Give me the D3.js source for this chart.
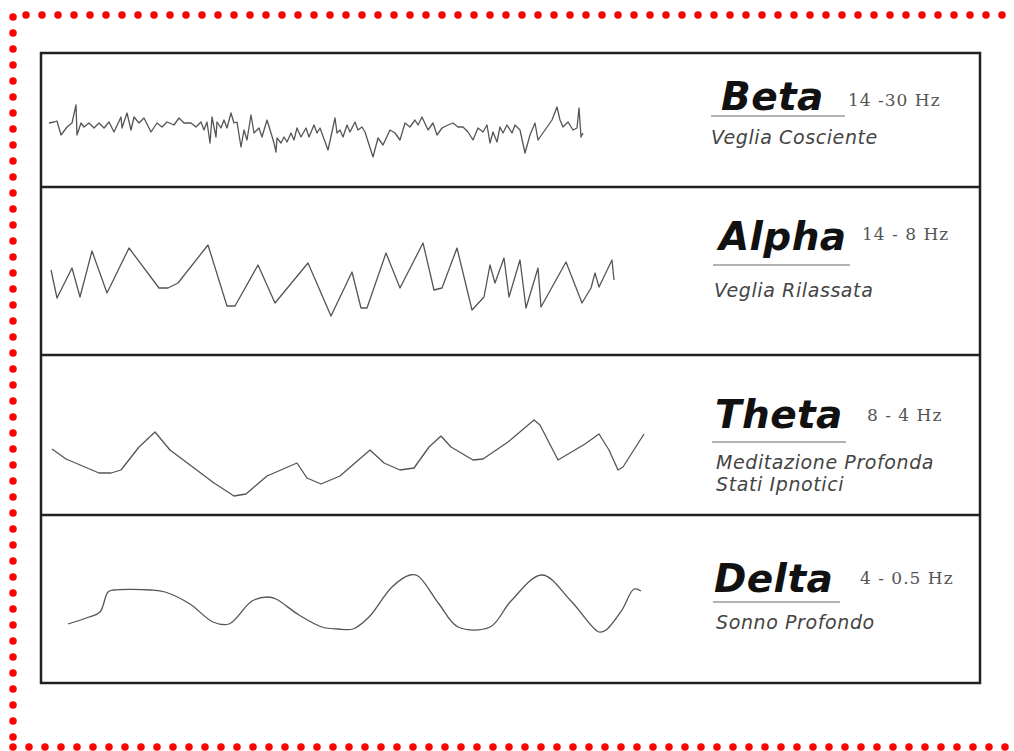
<!DOCTYPE html>
<html>
<head>
<meta charset="utf-8">
<script src="https://cdn.jsdelivr.net/npm/d3@7/dist/d3.min.js"></script>
<style>
  body { margin: 0; background: #fff; }
  svg { display: block; }
</style>
</head>
<body>
<div id="chart"></div>
<script>
// band names, frequency ranges and states
var bandNames = ['Beta', 'Alpha', 'Theta', 'Delta'];
var bandFreqs = ['14 -30 Hz', '14 - 8 Hz', '8 - 4 Hz', '4 - 0.5 Hz'];
var bandStates = [['Veglia Cosciente'], ['Veglia Rilassata'], ['Meditazione Profonda', 'Stati Ipnotici'], ['Sonno Profondo']];

// traces: [time, amplitude]
var betaWave = [[8,-3],[13,-2],[16,-1],[20,-15],[26,-7],[31,-3],[35,15],[36,-15],[40,-3],[43,-7],[48,-3],[53,-8],[58,-3],[63,-8],[68,-2],[73,-12],[80,3],[81,-8],[86,7],[90,-10],[93,3],[98,-3],[103,2],[110,-12],[116,-3],[121,-7],[126,-2],[133,-5],[138,2],[143,-3],[150,-3],[155,-7],[160,-2],[163,-10],[166,-2],[169,-23],[171,3],[175,-17],[176,-2],[180,-8],[183,0],[186,-8],[190,7],[193,-3],[196,-2],[200,-27],[203,-10],[206,-20],[210,5],[213,-13],[218,-8],[221,-17],[226,0],[230,-13],[233,-23],[235,-32],[236,-18],[240,-23],[243,-17],[246,-22],[250,-13],[253,-20],[256,-8],[260,-17],[265,-8],[268,-17],[273,-5],[276,-13],[279,-8],[287,-30],[294,2],[296,-13],[299,-10],[302,-17],[306,-5],[309,-12],[314,-2],[317,-10],[321,-7],[324,-12],[332,-37],[337,-18],[342,-25],[349,-10],[354,-13],[359,-20],[364,-3],[369,-7],[374,0],[377,-5],[381,3],[387,-10],[392,-3],[396,-15],[401,-8],[407,-5],[412,-3],[417,-7],[422,-7],[427,-12],[432,-20],[437,-8],[442,-12],[446,-5],[449,-23],[452,-12],[456,-22],[459,-7],[462,-13],[466,-5],[471,-13],[474,-5],[479,-10],[484,-33],[489,-15],[494,-3],[497,-20],[504,-10],[511,0],[516,13],[519,0],[522,-7],[527,-2],[532,-10],[536,-8],[538,12],[540,-17],[542,-13]];
var alphaWave = [[10,1],[16,-27],[31,3],[39,-26],[51,20],[66,-22],[88,23],[118,-17],[127,-17],[137,-12],[167,26],[186,-35],[194,-35],[217,6],[234,-32],[267,8],[290,-45],[311,-1],[320,-37],[326,-37],[345,18],[359,-17],[382,28],[393,-19],[401,-17],[416,23],[431,-39],[443,-26],[449,6],[454,-12],[463,13],[468,-26],[479,11],[485,-37],[497,3],[500,-36],[525,9],[541,-32],[550,-17],[554,-2],[558,-16],[571,11],[573,-9]];
var thetaWave = [[11,-14],[25,-24],[58,-38],[70,-38],[80,-35],[98,-12],[114,3],[129,-15],[149,-30],[173,-48],[193,-61],[205,-59],[226,-41],[256,-28],[266,-43],[280,-49],[299,-41],[329,-15],[343,-28],[359,-35],[373,-33],[388,-12],[400,-1],[410,-12],[432,-25],[442,-24],[467,-7],[493,15],[499,10],[517,-25],[544,-9],[558,1],[568,-15],[577,-35],[582,-32],[603,1]];
var deltaWave = [[27,-25],[48,-18],[59,-13],[67,7],[73,9],[110,9],[124,7],[149,-5],[172,-23],[188,-25],[211,-2],[227,2],[235,0],[258,-16],[281,-28],[297,-30],[312,-30],[328,-18],[351,12],[369,24],[377,23],[398,-5],[417,-28],[449,-28],[470,-2],[501,24],[530,-2],[558,-33],[565,-31],[581,-11],[593,10],[600,8]];

var waves = [betaWave, alphaWave, thetaWave, deltaWave];
var curves = [d3.curveLinear, d3.curveLinear, d3.curveLinear, d3.curveCatmullRom];

var W = 1014, H = 751;
var box = {left: 41, right: 980, top: 53, bottom: 683};
var panelEdges = [53, 187, 355, 515, 683];

// text layout per panel (offsets from panel top)
var layout = [
  {tx: 721, ty: 57, fx: 848, fy: 53, lx1: 711, lx2: 845, ly: 63, dx: 711, dy: 91},
  {tx: 719, ty: 63, fx: 862, fy: 53, lx1: 713, lx2: 850, ly: 78, dx: 714, dy: 110},
  {tx: 715, ty: 73, fx: 867, fy: 66, lx1: 712, lx2: 846, ly: 87, dx: 716, dy: 114},
  {tx: 714, ty: 77, fx: 860, fy: 69, lx1: 713, lx2: 840, ly: 87, dx: 716, dy: 114}
];

var svg = d3.select('#chart').append('svg')
  .attr('width', W).attr('height', H);

svg.append('rect').attr('width', W).attr('height', H).attr('fill', '#fff');

// red dotted frame
var dots = svg.append('g')
  .attr('stroke', '#ff0000')
  .attr('stroke-width', 7.5)
  .attr('stroke-linecap', 'round')
  .attr('stroke-dasharray', '0,16');
dots.append('line').attr('x1', 26).attr('y1', 15).attr('x2', W + 10).attr('y2', 15);
dots.append('line').attr('x1', 13).attr('y1', 17).attr('x2', 13).attr('y2', 747);
dots.append('line').attr('x1', 13).attr('y1', 747).attr('x2', W + 10).attr('y2', 747);

var x = d3.scaleLinear().domain([0, 940]).range([box.left, box.left + 940]);

bandNames.forEach(function(name, i) {
  var top = panelEdges[i], bottom = panelEdges[i + 1];
  var mid = Math.round((top + bottom) / 2);
  var half = (bottom - top) / 2;
  var y = d3.scaleLinear().domain([-half, half]).range([mid + half, mid - half]);
  var line = d3.line()
    .x(function(d) { return x(d[0]); })
    .y(function(d) { return y(d[1]); })
    .curve(curves[i]);

  svg.append('path')
    .datum(waves[i])
    .attr('d', line)
    .attr('fill', 'none')
    .attr('stroke', '#555')
    .attr('stroke-width', 1.3)
    .attr('stroke-linejoin', 'round');

  var L = layout[i];
  var g = svg.append('g');
  g.append('text')
    .attr('x', L.tx).attr('y', top + L.ty)
    .attr('font-family', 'DejaVu Sans')
    .attr('font-weight', 'bold')
    .attr('font-style', 'italic')
    .attr('font-size', 39)
    .attr('letter-spacing', 0.4)
    .attr('fill', '#111')
    .text(name);
  g.append('text')
    .attr('x', L.fx).attr('y', top + L.fy)
    .attr('font-family', 'DejaVu Serif')
    .attr('font-size', 17)
    .attr('letter-spacing', 1)
    .attr('fill', '#555')
    .text(bandFreqs[i]);
  g.append('line')
    .attr('x1', L.lx1).attr('x2', L.lx2)
    .attr('y1', top + L.ly).attr('y2', top + L.ly)
    .attr('stroke', '#999').attr('stroke-width', 1.6);
  bandStates[i].forEach(function(s, j) {
    g.append('text')
      .attr('x', L.dx).attr('y', top + L.dy + j * 22)
      .attr('font-family', 'DejaVu Sans')
      .attr('font-style', 'italic')
      .attr('font-size', 19)
      .attr('letter-spacing', 0.6)
      .attr('fill', '#444')
      .text(s);
  });
});

// frame and dividers
svg.append('rect')
  .attr('x', box.left).attr('y', box.top)
  .attr('width', box.right - box.left).attr('height', box.bottom - box.top)
  .attr('fill', 'none').attr('stroke', '#222').attr('stroke-width', 2.5);

svg.selectAll('line.divider')
  .data(panelEdges.slice(1, 4))
  .enter().append('line')
  .attr('class', 'divider')
  .attr('x1', box.left).attr('x2', box.right)
  .attr('y1', function(d) { return d; }).attr('y2', function(d) { return d; })
  .attr('stroke', '#222').attr('stroke-width', 2.5);
</script>
</body>
</html>
